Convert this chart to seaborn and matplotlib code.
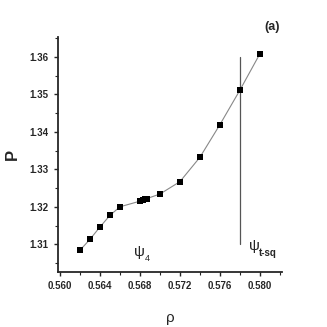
import matplotlib
matplotlib.use("Agg")
import matplotlib.pyplot as plt
import seaborn as sns
import pandas as pd
from matplotlib.ticker import MultipleLocator, FormatStrFormatter

rho = [0.562, 0.563, 0.564, 0.565, 0.566, 0.5680, 0.5683, 0.5685, 0.5687,
       0.570, 0.572, 0.574, 0.576, 0.578, 0.580]
P = [1.3084, 1.3113, 1.3146, 1.3177, 1.3200, 1.3215, 1.3218, 1.3220, 1.3222,
     1.3234, 1.3267, 1.3332, 1.3419, 1.3511, 1.3608]

df = pd.DataFrame({"rho": rho, "P": P})

sns.set_style("ticks")
plt.rcParams['font.family'] = ['Liberation Sans', 'DejaVu Sans']

fig = plt.figure(figsize=(3.27, 3.27), dpi=100)
ax = fig.add_axes([0.177, 0.168, 0.685, 0.719])

sns.lineplot(data=df, x="rho", y="P", color="#888888", linewidth=0.8, ax=ax)
sns.scatterplot(data=df, x="rho", y="P", marker="s", color="black", s=13,
                edgecolor="black", linewidth=0, ax=ax, zorder=3)

ax.plot([0.578, 0.578], [1.31, 1.36], color="#555555", linewidth=0.9)

ax.set_xlim(0.5598, 0.5822)
ax.set_ylim(1.3026, 1.3653)
ax.xaxis.set_major_locator(MultipleLocator(0.004))
ax.xaxis.set_minor_locator(MultipleLocator(0.002))
ax.yaxis.set_major_locator(MultipleLocator(0.01))
ax.yaxis.set_minor_locator(MultipleLocator(0.005))
ax.xaxis.set_major_formatter(FormatStrFormatter("%.3f"))
ax.yaxis.set_major_formatter(FormatStrFormatter("%.2f"))
ax.tick_params(which="major", length=3, width=1, labelsize=7)
ax.tick_params(which="minor", length=2, width=0.8)
for lab in ax.get_xticklabels() + ax.get_yticklabels():
    lab.set_fontweight("bold")

sns.despine(ax=ax)
for s in ["left", "bottom"]:
    ax.spines[s].set_linewidth(1.3)

ax.set_xlabel("ρ", fontsize=11, labelpad=14)
ax.set_ylabel("P", fontsize=12, fontweight="bold", labelpad=7)

# psi_4 label
ax.text(0.5680, 1.3080, "ψ", fontsize=11, ha="center", va="center")
ax.text(0.5685, 1.3062, "4", fontsize=6.5, ha="left", va="center")
# psi_t-sq label
ax.text(0.5789, 1.3095, "ψ", fontsize=11, ha="left", va="center")
ax.text(0.5799, 1.3076, "t-sq", fontsize=7, fontweight="bold", ha="left", va="center")

fig.text(0.832, 0.918, "(a)", fontsize=9, fontweight="bold", ha="center", va="center")

fig.savefig("out.png", dpi=100)
